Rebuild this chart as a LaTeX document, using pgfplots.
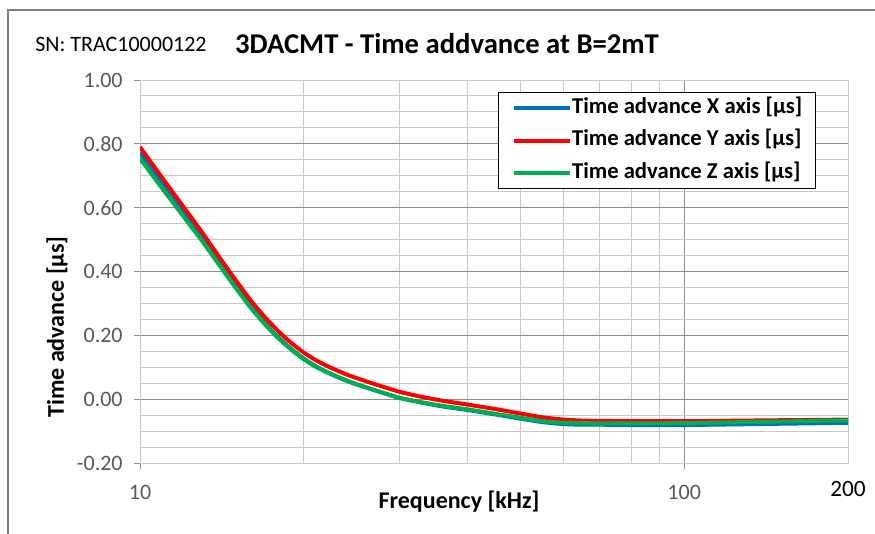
\documentclass[border=0pt]{standalone}
\usepackage{pgfplots}
\pgfplotsset{compat=1.18}
\usepackage{fontspec}
\setmainfont{Carlito}
\definecolor{xblue}{HTML}{0070C0}
\definecolor{yred}{HTML}{FF0000}
\definecolor{zgreen}{HTML}{00B050}
\definecolor{tickgray}{HTML}{595959}
\definecolor{majgrid}{HTML}{8C8C8C}
\definecolor{mingrid}{HTML}{C8C8C8}

% Time advance vs frequency [kHz], values in microseconds
\pgfplotstableread{
f     x       y       z
10    0.772   0.790   0.754
11    0.674   0.692   0.659
12    0.586   0.604   0.574
13    0.505   0.523   0.496
14    0.426   0.444   0.419
15    0.354   0.372   0.348
16    0.290   0.308   0.285
17    0.236   0.255   0.233
18    0.192   0.211   0.189
19    0.156   0.175   0.154
20    0.127   0.146   0.125
21    0.104   0.123   0.102
22    0.086   0.105   0.085
23    0.071   0.090   0.070
24    0.058   0.077   0.057
25    0.047   0.066   0.046
27    0.028   0.047   0.028
30    0.004   0.023   0.004
33   -0.011   0.007  -0.010
36   -0.023  -0.005  -0.021
40   -0.034  -0.017  -0.032
45   -0.048  -0.031  -0.046
50   -0.061  -0.045  -0.058
55   -0.072  -0.057  -0.069
60   -0.078  -0.064  -0.074
65   -0.080  -0.067  -0.075
70   -0.080  -0.068  -0.076
80   -0.081  -0.069  -0.076
100  -0.081  -0.069  -0.075
150  -0.077  -0.066  -0.070
200  -0.074  -0.064  -0.066
}\tadv

\begin{document}
\begin{tikzpicture}[x=0.75pt,y=0.75pt]
\useasboundingbox (0,0) rectangle (875,533);
\draw[gray, line width=1.2pt] (8,-10) -- (8,523) -- (885,523);
\node[anchor=base west, inner sep=0pt, font=\fontsize{16.5}{18}\selectfont] at (35,481) {SN: TRAC10000122};
\node[anchor=base, inner sep=0pt, font=\fontsize{21.5}{24}\selectfont\bfseries] at (447,479) {3DACMT - Time addvance at B=2mT};
\node[rotate=90, font=\fontsize{18}{20}\selectfont\bfseries] at (57,206) {Time advance [µs]};
\node[font=\fontsize{18}{20}\selectfont\bfseries] at (459,31) {Frequency [kHz]};
\node[font=\fontsize{17.5}{20}\selectfont] at (848,44) {200};
\begin{axis}[
  at={(105pt,52.5pt)}, anchor=south west,
  width=531pt, height=287.25pt, scale only axis,
  xmode=log, xmin=10, xmax=200, ymin=-0.2, ymax=1.0,
  xtick={10,100}, xticklabels={10,100},
  minor xtick={20,30,40,50,60,70,80,90,200},
  ytick={-0.2,0,0.2,0.4,0.6,0.8,1.0},
  minor y tick num=3,
  grid=both,
  major grid style={majgrid, line width=0.75pt},
  minor grid style={mingrid, line width=0.75pt},
  axis line style={mingrid, line width=0.75pt},
  tick align=outside, xtick pos=bottom, ytick pos=left,
  major tick length=4.5pt, minor tick length=0pt,
  tick style={majgrid, line width=0.75pt},
  ticklabel style={font=\fontsize{16.5}{18}\selectfont, text=tickgray},
  xticklabel style={yshift=-9pt},
  /pgf/number format/assume math mode=true,
  yticklabel style={xshift=-5pt, /pgf/number format/.cd, fixed, fixed zerofill, precision=2, assume math mode=true},
  legend style={at={(0.5056,0.9687)}, anchor=north west, draw=black, line width=1.1pt,
    font=\fontsize{17}{20}\selectfont\bfseries, inner xsep=10pt, inner ysep=3.5pt,
    row sep=8.4pt, column sep=0pt, nodes={inner sep=0pt, text height=12pt, text depth=4pt}},
  legend cell align=left,
  legend image code/.code={\path (0pt,0pt) -- (8pt,0pt); \draw[#1] (8pt,0pt) -- (42pt,0pt);},
]
\addplot[xblue, line width=3pt, line join=round, smooth, tension=0.4] table[x=f, y=x] {\tadv};
\addplot[yred, line width=3pt, line join=round, smooth, tension=0.4] table[x=f, y=y] {\tadv};
\addplot[zgreen, line width=3pt, line join=round, smooth, tension=0.4] table[x=f, y=z] {\tadv};
\legend{Time advance X axis [µs], Time advance Y axis [µs], Time advance Z axis [µs]}
\end{axis}
\end{tikzpicture}
\end{document}
